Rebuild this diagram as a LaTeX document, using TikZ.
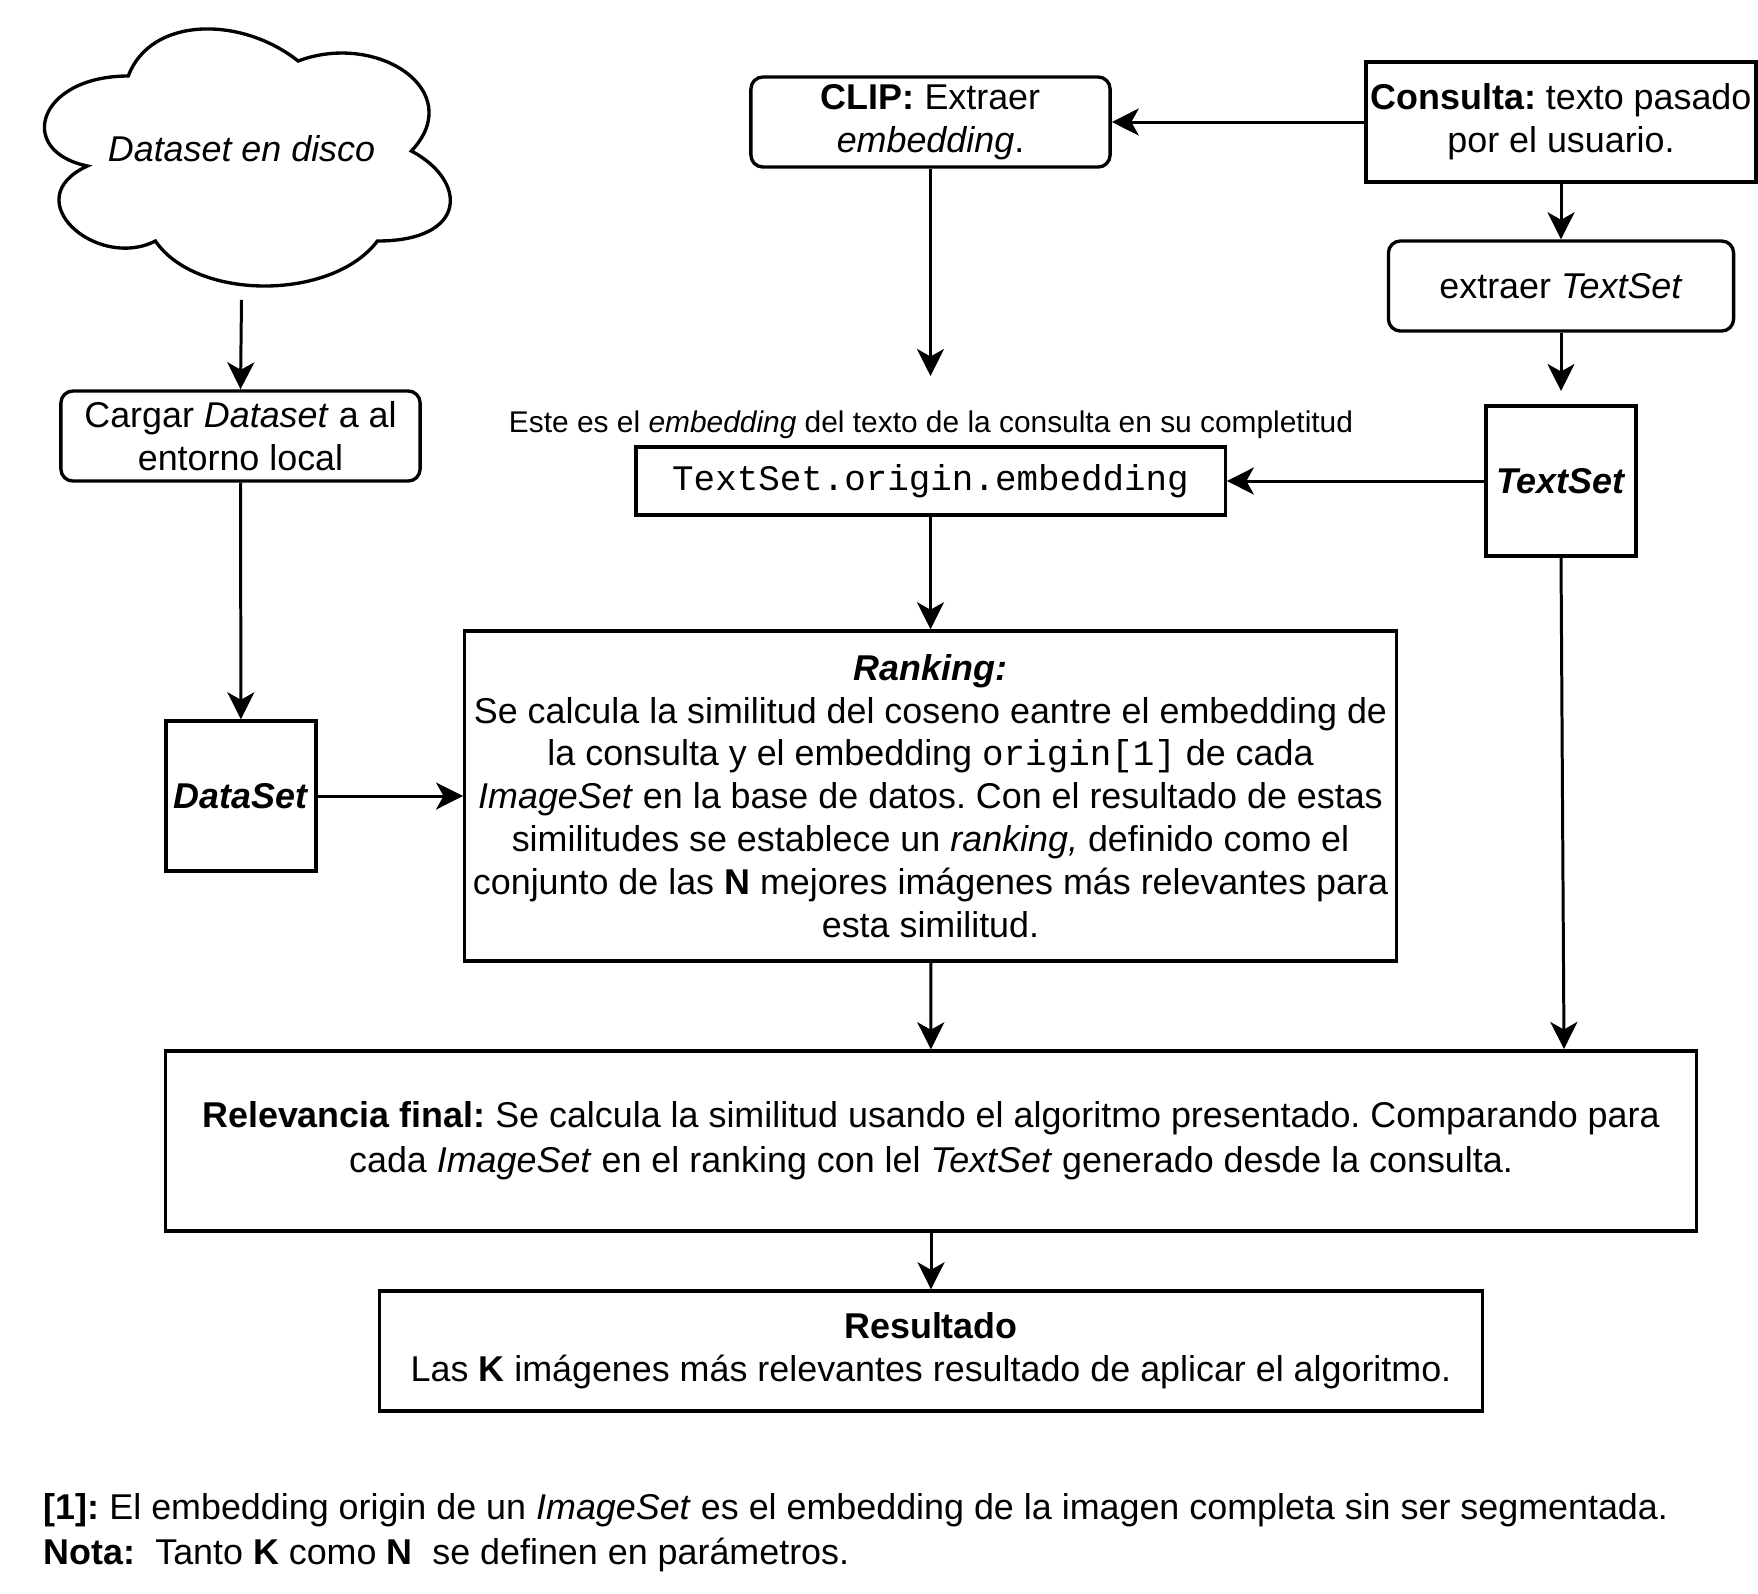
\documentclass[tikz,border=0pt]{standalone}
\usepackage{fontspec}
\setmainfont{Liberation Sans}
\setmonofont{Liberation Mono}
\usetikzlibrary{positioning,arrows.meta}
\frenchspacing

\begin{document}
\begin{tikzpicture}[
    x=0.01cm, y=-0.01cm,
    txt/.style={font=\fontsize{10.2}{12.2}\selectfont},
    widetxt/.style={font=\fontsize{10.2}{12.8}\selectfont},
    box/.style={rectangle, draw, line width=0.95pt, align=center, inner sep=0pt, txt},
    roundbox/.style={box, rounded corners=1.2mm},
    arrow/.style={-{Stealth[length=2.7mm, width=2.7mm, inset=0.75mm]}, line width=0.85pt}
]
    \useasboundingbox (0,0) rectangle (1758,1593);

    \draw[line width=0.95pt] (128.25,76)
        .. controls (37.65,76) and (15,151) .. (87.48,166)
        .. controls (15,199) and (96.54,271) .. (155.43,241)
        .. controls (196.2,301) and (332.1,301) .. (377.4,241)
        .. controls (468,241) and (468,181) .. (411.38,151)
        .. controls (468,91) and (377.4,31) .. (298.13,61)
        .. controls (241.5,16) and (150.9,16) .. cycle;
    \node[txt, minimum width=45.3mm, minimum height=30mm, inner sep=0pt] (disco) at (241.5,149) {\textit{Dataset en disco}};

    \node[roundbox, minimum width=35.9mm, minimum height=9mm] (clip) at (930.5,122) {\textbf{CLIP:} Extraer\\\textit{embedding}.};
    \node[box, minimum width=39mm, minimum height=12mm] (consulta) at (1561,122) {\textbf{Consulta:} texto pasado\\por el usuario.};
    \node[roundbox, minimum width=34.5mm, minimum height=9mm] (extraer) at (1561,286) {extraer \textit{TextSet}};
    \node[box, minimum size=15mm] (textset) at (1561,481) {\textbf{\textit{TextSet}}};
    \node[box, minimum width=58.9mm, minimum height=6.8mm] (origin) at (930.5,481) {\texttt{TextSet.origin.embedding}};
    \node[font=\fontsize{8.5}{10}\selectfont] (aclaracion) at (931,425) {Este es el \textit{embedding} del texto de la consulta en su completitud};
    \node[roundbox, minimum width=35.9mm, minimum height=9mm] (cargar) at (240.5,436) {Cargar \textit{Dataset} a al\\entorno local};
    \node[box, minimum size=15mm] (dataset) at (241,796) {\textbf{\textit{DataSet}}};
    \node[box, minimum width=93.1mm, minimum height=33mm] (ranking) at (930.5,796) {\textbf{\textit{Ranking:}}\\Se calcula la similitud del coseno eantre el embedding de\\la consulta y el embedding \texttt{origin[1]} de cada\\\textit{ImageSet} en la base de datos. Con el resultado de estas\\similitudes se establece un \textit{ranking,} definido como el\\conjunto de las \textbf{N} mejores imágenes más relevantes para\\esta similitud.};
    \node[box, widetxt, minimum width=153mm, minimum height=18mm] (relevancia) at (931,1141) {\textbf{Relevancia final:} Se calcula la similitud usando el algoritmo presentado. Comparando para\\cada \textit{ImageSet} en el ranking con lel \textit{TextSet} generado desde la consulta.};
    \node[box, minimum width=110.2mm, minimum height=12mm] (resultado) at (931,1351) {\textbf{Resultado}\\Las \textbf{K} imágenes más relevantes resultado de aplicar el algoritmo.};
    \node[widetxt, anchor=west, align=left, inner sep=0pt] (notas) at (43,1533) {\textbf{[1]:} El embedding origin de un \textit{ImageSet} es el embedding de la imagen completa sin ser segmentada.\\\textbf{Nota:}\ \ Tanto \textbf{K} como \textbf{N}\ \ se definen en parámetros.};

    \coordinate (clipfin) at (930.5,376);
    \coordinate (extraerfin) at (1561,391);
    \coordinate (textsetfin) at (1564,1049);

    \draw[arrow] (disco.south) -- (cargar.north);
    \draw[arrow] (cargar) -- (dataset);
    \draw[arrow] (dataset) -- (ranking);
    \draw[arrow] (consulta) -- (clip);
    \draw[arrow] (clip) -- (clipfin);
    \draw[arrow] (consulta) -- (extraer);
    \draw[arrow] (extraer) -- (extraerfin);
    \draw[arrow] (textset) -- (origin);
    \draw[arrow] (origin) -- (ranking);
    \draw[arrow] (textset.south) -- (textsetfin);
    \draw[arrow] (ranking) -- (relevancia);
    \draw[arrow] (relevancia) -- (resultado);
\end{tikzpicture}
\end{document}
